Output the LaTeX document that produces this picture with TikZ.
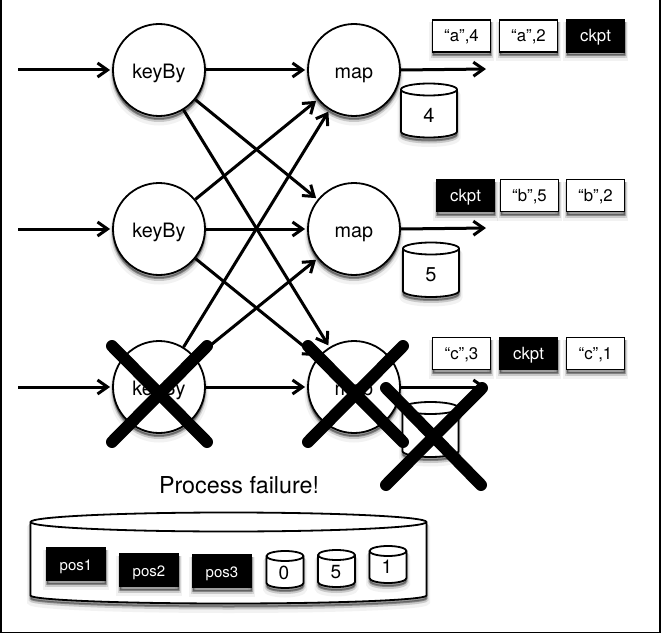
\documentclass[tikz,border=0pt]{standalone}
\usepackage{fontspec}
\setmainfont{TeX Gyre Heros}
\usetikzlibrary{arrows.meta}
\tikzset{
  softshadow/.style={
    preaction={draw=black,fill=black,line width=7pt,opacity=.05,transform canvas={yshift=-6pt}},
    preaction={draw=black,fill=black,line width=4pt,opacity=.12,transform canvas={yshift=-4pt}},
    preaction={draw=black,fill=black,line width=2pt,opacity=.25,transform canvas={yshift=-3pt}}},
  opnode/.style={circle,draw=black,fill=white,line width=1.8pt,minimum size=92pt,inner sep=0pt,softshadow,
    font=\fontsize{19.8}{22}\selectfont,text height=16pt,text depth=0pt},
  flow/.style={line width=3pt,-{Straight Barb[length=10pt,width=14pt,line width=3pt]},shorten >=2pt},
  msgbox/.style={rectangle,draw=black,fill=white,line width=1.8pt,minimum width=58pt,minimum height=32pt,inner sep=0pt,softshadow,
    font=\fontsize{16.8}{18}\selectfont,text height=11pt,text depth=0pt},
  ckptbox/.style={msgbox,fill=black,text=white},
  posbox/.style={rectangle,draw=black,fill=black,text=white,line width=1pt,minimum width=59pt,minimum height=33pt,inner sep=0pt,softshadow,
    font=\fontsize{15}{17}\selectfont,text height=12pt,text depth=0pt},
  drum/.style={draw=black,fill=white,line width=1.8pt,line join=round},
  drumrim/.style={draw=black,line width=1.8pt},
  storelabel/.style={inner sep=0pt,font=\fontsize{20}{22}\selectfont},
  smalllabel/.style={inner sep=0pt,font=\fontsize{19}{21}\selectfont},
  crossstroke/.style={line width=12pt,line cap=round,black},
}
% #1 centre x, #2 top y, #3 half width, #4 bottom y, #5 top radius, #6 bottom radius
\newcommand{\drumat}[6]{%
  \path[drum,softshadow] ({#1-#3},{#2+#5}) arc[start angle=180,end angle=0,x radius=#3pt,y radius=#5pt]
     -- ({#1+#3},{#4-#6}) arc[start angle=360,end angle=180,x radius=#3pt,y radius=#6pt] -- cycle;
  \draw[drumrim] ({#1-#3},{#2+#5}) arc[start angle=180,end angle=360,x radius=#3pt,y radius=#5pt];
}
\begin{document}
\begin{tikzpicture}[x=1pt,y=-1pt]
\useasboundingbox (0,0) rectangle (662,634);
\fill[white] (0,0) rectangle (662,634);
\draw[line width=1.5pt] (1,0) -- (1,632.5) -- (660,632.5) -- (660,0);

% state backend
\drumat{228.5}{512.5}{198}{603.5}{9.5}{8}
\node[posbox] (pos1) at (76,564) {pos1};
\node[posbox] (pos2) at (149,570) {pos2};
\node[posbox] (pos3) at (222,571) {pos3};
\drumat{285}{551}{18.5}{588}{5}{5}
\node[smalllabel] (s0) at (284,573) {0};
\drumat{336.5}{550}{18.5}{587}{5}{5}
\node[smalllabel] (s5) at (336,572) {5};
\drumat{388}{546}{18.5}{583}{5}{5}
\node[smalllabel] (s1) at (387,567) {1};
\node[font=\fontsize{23.3}{26}\selectfont] (fail) at (239,485) {Process failure!};

% operators
\node[opnode] (k1) at (159,70) {keyBy};
\node[opnode] (k2) at (159,229) {keyBy};
\node[opnode] (k3) at (159,387) {keyBy};
\node[opnode] (m1) at (354,70) {map};
\node[opnode] (m2) at (354,229) {map};
\node[opnode] (m3) at (354,387) {map};

% state
\drumat{429}{83.5}{28}{137.5}{6}{6}
\node[storelabel] (st1) at (429,115) {4};
\drumat{431}{242.5}{28}{297}{6}{6}
\node[storelabel] (st2) at (431,274.5) {5};
\drumat{430.5}{402}{28}{457}{6}{6}

% messages
\node[msgbox] (a4) at (461.5,36) {“a”,4};
\node[msgbox] (a2) at (528.5,36) {“a”,2};
\node[ckptbox] (ca) at (595.5,36) {ckpt};
\node[ckptbox] (cb) at (465.5,195.5) {ckpt};
\node[msgbox] (b5) at (529.5,195.5) {“b”,5};
\node[msgbox] (b2) at (595.5,195.5) {“b”,2};
\node[msgbox] (c3) at (461.5,353.5) {“c”,3};
\node[ckptbox] (cc) at (528.5,353.5) {ckpt};
\node[msgbox] (c1) at (595.5,353.5) {“c”,1};

% free ends
\coordinate (i1) at (18,70);
\coordinate (i2) at (18,229);
\coordinate (i3) at (18,387);
\coordinate (o1) at (488,69);
\coordinate (o2) at (488,228);
\coordinate (o3) at (488,387);

% connectors
\draw[flow] (i1) -- (k1);
\draw[flow] (i2) -- (k2);
\draw[flow] (i3) -- (k3);
\foreach \a in {k1,k2,k3}
  \foreach \b in {m1,m2,m3}
    \draw[flow] (\a) -- (\b);
\draw[flow] (m1.east) -- (o1);
\draw[flow] (m2.east) -- (o2);
\draw[flow] (m3.east) -- (o3);

% failure crosses
\draw[crossstroke] (112,346) -- (207,442);
\draw[crossstroke] (112,442) -- (207,346);
\draw[crossstroke] (308,346) -- (403,442);
\draw[crossstroke] (308,442) -- (403,346);
\draw[crossstroke] (386,388) -- (481,485);
\draw[crossstroke] (386,485) -- (482,388);
\end{tikzpicture}
\end{document}
